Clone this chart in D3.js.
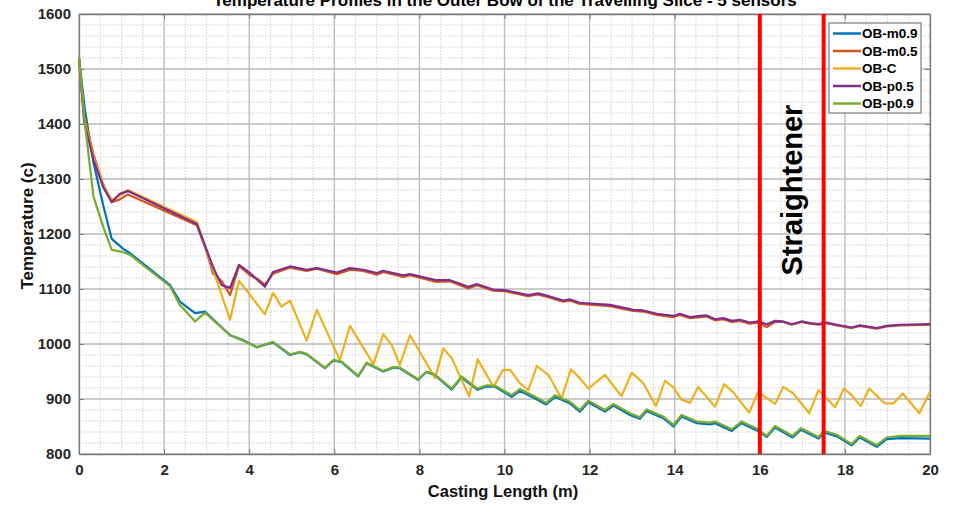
<!DOCTYPE html>
<html>
<head>
<meta charset="utf-8">
<script src="https://cdn.jsdelivr.net/npm/d3@7"></script>
<style>
  html, body { margin: 0; padding: 0; background: #ffffff; }
  svg { display: block; font-family: "Liberation Sans", Arial, sans-serif; }
</style>
</head>
<body>
<svg id="chart" width="961" height="505"></svg>
<script>
// ---------- DATA ----------
const chartTitle = "Temperature Profiles in the Outer Bow of the Travelling Slice - 5 sensors";
const xLabel = "Casting Length (m)";
const yLabel = "Temperature (c)";
const xTicks = [0, 2, 4, 6, 8, 10, 12, 14, 16, 18, 20];
const yTicks = [800, 900, 1000, 1100, 1200, 1300, 1400, 1500, 1600];
const seriesNames = ["OB-m0.9", "OB-m0.5", "OB-C", "OB-p0.5", "OB-p0.9"];
const seriesColors = ["#0072BD", "#D95319", "#EDB120", "#7E2F8E", "#77AC30"];
const markerPositions = [16, 17.5];
const markerLabel = "Straightener";

// casting length for the upper pair (m0.5, p0.5)
const xUpper = [0, 0.12, 0.34, 0.57, 0.77, 0.96, 1.15, 2.77, 3.0, 3.15, 3.35, 3.55, 3.76, 4.02, 4.2, 4.37, 4.56, 4.96, 5.35, 5.59, 6.06, 6.37, 6.68, 7.0, 7.15, 7.62, 7.78, 8.4, 8.72, 9.15, 9.35, 9.73, 10.01, 10.56, 10.79, 11.03, 11.38, 11.54, 11.77, 12.48, 13.03, 13.26, 13.58, 13.97, 14.12, 14.36, 14.6, 14.75, 14.95, 15.14, 15.34, 15.53, 15.77, 15.96, 16.16, 16.36, 16.55, 16.75, 16.98, 17.18, 17.38, 17.57, 17.81, 18.16, 18.35, 18.75, 18.98, 19.3, 20.0];
const obP05 = [1520, 1405, 1335, 1285, 1258, 1273, 1278, 1218, 1171, 1140, 1107, 1102, 1144, 1129, 1116, 1104, 1131, 1141, 1135, 1138, 1130, 1138, 1135, 1129, 1133, 1125, 1127, 1116, 1116, 1104, 1109, 1099, 1098, 1089, 1092, 1087, 1079, 1081, 1075, 1071, 1062, 1061, 1055, 1051, 1055, 1049, 1051, 1052, 1045, 1047, 1042, 1044, 1039, 1041, 1036, 1042, 1041, 1036, 1041, 1038, 1036, 1039, 1035, 1030, 1034, 1029, 1033, 1035, 1036];
const obM05 = [1520, 1415, 1345, 1290, 1258, 1263, 1272, 1216, 1168, 1128, 1115, 1089, 1142, 1125, 1118, 1108, 1128, 1139, 1133, 1137, 1127, 1135, 1133, 1126, 1131, 1122, 1125, 1113, 1114, 1101, 1107, 1097, 1096, 1087, 1090, 1085, 1077, 1079, 1073, 1069, 1060, 1059, 1053, 1049, 1053, 1047, 1049, 1050, 1043, 1045, 1040, 1042, 1037, 1039, 1031, 1040, 1040, 1035, 1040, 1037, 1035, 1038, 1034, 1029, 1033, 1028, 1032, 1034, 1035];

// casting length for the centre sensor
const xCentre = [0, 0.12, 0.34, 0.57, 0.77, 0.96, 1.15, 2.77, 3.55, 3.76, 4.37, 4.56, 4.76, 4.96, 5.35, 5.59, 6.13, 6.37, 6.92, 7.15, 7.35, 7.54, 7.78, 8.37, 8.56, 8.76, 9.17, 9.37, 9.74, 9.97, 10.13, 10.36, 10.56, 10.76, 11.03, 11.34, 11.56, 11.77, 11.97, 12.36, 12.75, 12.99, 13.26, 13.56, 13.77, 13.97, 14.16, 14.36, 14.55, 14.95, 15.16, 15.38, 15.75, 15.96, 16.36, 16.55, 16.79, 17.16, 17.38, 17.77, 17.98, 18.16, 18.37, 18.57, 18.94, 19.14, 19.36, 19.75, 20.0];
const obC = [1520, 1410, 1340, 1288, 1262, 1270, 1280, 1222, 1044, 1115, 1054, 1093, 1068, 1079, 1006, 1062, 971, 1033, 963, 1018, 998, 962, 1016, 938, 992, 974, 905, 972, 922, 953, 953, 929, 916, 960, 944, 901, 954, 938, 919, 944, 905, 948, 929, 887, 933, 921, 899, 893, 922, 886, 927, 912, 875, 913, 891, 922, 910, 874, 916, 885, 919, 907, 887, 919, 892, 892, 910, 874, 913];

// casting length for the lower pair (m0.9, p0.9)
const xLower = [0, 0.14, 0.34, 0.57, 0.77, 1.04, 1.2, 2.14, 2.37, 2.73, 2.96, 3.55, 3.86, 4.18, 4.56, 4.96, 5.19, 5.35, 5.78, 5.98, 6.17, 6.56, 6.76, 7.15, 7.39, 7.54, 7.97, 8.17, 8.37, 8.76, 8.99, 9.36, 9.58, 9.78, 10.17, 10.36, 10.72, 10.98, 11.19, 11.54, 11.77, 11.97, 12.36, 12.56, 12.95, 13.18, 13.34, 13.73, 13.97, 14.16, 14.52, 14.83, 14.95, 15.34, 15.57, 15.96, 16.16, 16.36, 16.77, 16.97, 17.38, 17.51, 17.81, 18.16, 18.35, 18.75, 18.98, 19.3, 20.0];
const obM09 = [1520, 1425, 1330, 1252, 1191, 1173, 1165, 1107, 1077, 1056, 1059, 1016, 1007, 994, 1003, 980, 985, 981, 956, 970, 967, 941, 965, 950, 957, 956, 935, 949, 943, 917, 939, 917, 923, 922, 904, 915, 901, 890, 904, 892, 877, 894, 877, 888, 871, 864, 878, 865, 850, 868, 856, 854, 856, 842, 856, 842, 831, 848, 830, 844, 828, 839, 832, 816, 830, 813, 827, 829, 828];
const obP09 = [1520, 1400, 1268, 1213, 1171, 1167, 1162, 1105, 1071, 1041, 1057, 1016, 1006, 994, 1004, 981, 986, 982, 957, 971, 968, 942, 966, 951, 958, 957, 936, 950, 944, 919, 941, 919, 925, 924, 907, 918, 904, 893, 907, 895, 880, 897, 880, 891, 874, 867, 881, 868, 853, 871, 859, 857, 859, 845, 859, 845, 833, 851, 833, 847, 831, 842, 835, 818, 833, 816, 830, 833, 833];

const seriesX = [xLower, xUpper, xCentre, xUpper, xLower];
const seriesY = [obM09, obM05, obC, obP05, obP09];

// ---------- LAYOUT ----------
const svg = d3.select("#chart");
const margin = { left: 79, right: 31, top: 14, bottom: 51 };
const W = 961, H = 505;
const x = d3.scaleLinear().domain([0, 20]).range([margin.left, W - margin.right]);
const y = d3.scaleLinear().domain([800, 1600]).range([H - margin.bottom, margin.top]);

// minor grid
const xMinor = d3.range(0, 20.001, 0.5);
const yMinor = d3.range(800, 1600.001, 20);
svg.append("g").selectAll("line").data(xMinor).join("line")
  .attr("x1", d => x(d)).attr("x2", d => x(d))
  .attr("y1", y(800)).attr("y2", y(1600))
  .attr("stroke", "#cfcfcf").attr("stroke-width", 1).attr("stroke-dasharray", "1.5,1.5");
svg.append("g").selectAll("line").data(yMinor).join("line")
  .attr("x1", x(0)).attr("x2", x(20))
  .attr("y1", d => y(d)).attr("y2", d => y(d))
  .attr("stroke", "#cfcfcf").attr("stroke-width", 1).attr("stroke-dasharray", "1.5,1.5");

// major grid
svg.append("g").selectAll("line").data(xTicks).join("line")
  .attr("x1", d => x(d)).attr("x2", d => x(d))
  .attr("y1", y(800)).attr("y2", y(1600))
  .attr("stroke", "#bdbdbd").attr("stroke-width", 1.3);
svg.append("g").selectAll("line").data(yTicks).join("line")
  .attr("x1", x(0)).attr("x2", x(20))
  .attr("y1", d => y(d)).attr("y2", d => y(d))
  .attr("stroke", "#bdbdbd").attr("stroke-width", 1.3);

// axes (ticks inward like MATLAB)
const xAxis = d3.axisBottom(x).tickValues(xTicks).tickFormat(d3.format("d")).tickSizeInner(-5).tickSizeOuter(0).tickPadding(10);
const yAxis = d3.axisLeft(y).tickValues(yTicks).tickFormat(d3.format("d")).tickSizeInner(-5).tickSizeOuter(0).tickPadding(8);
const gx = svg.append("g").attr("transform", `translate(0,${y(800)})`).call(xAxis);
const gy = svg.append("g").attr("transform", `translate(${x(0)},0)`).call(yAxis);
const gx2 = svg.append("g").attr("transform", `translate(0,${y(1600)})`).call(d3.axisTop(x).tickValues(xTicks).tickFormat("").tickSizeInner(-5).tickSizeOuter(0));
const gy2 = svg.append("g").attr("transform", `translate(${x(20)},0)`).call(d3.axisRight(y).tickValues(yTicks).tickFormat("").tickSizeInner(-5).tickSizeOuter(0));
[gx, gy, gx2, gy2].forEach(g => {
  g.select(".domain").attr("stroke", "#7a7a7a").attr("stroke-width", 1.3);
  g.selectAll(".tick line").attr("stroke", "#7a7a7a");
  g.selectAll("text").attr("font-family", "'Liberation Sans', Arial, sans-serif")
    .attr("font-size", 15).attr("font-weight", "bold").attr("fill", "#262626");
});

// series lines
const line = d3.line().x(d => x(d[0])).y(d => y(d[1]));
seriesNames.forEach((name, i) => {
  const pts = seriesX[i].map((xv, j) => [xv, seriesY[i][j]]);
  svg.append("path").datum(pts)
    .attr("d", line)
    .attr("fill", "none")
    .attr("stroke", seriesColors[i])
    .attr("stroke-width", 2.2)
    .attr("stroke-linejoin", "round");
});

// straightener markers
svg.append("g").selectAll("line").data(markerPositions).join("line")
  .attr("x1", d => x(d)).attr("x2", d => x(d))
  .attr("y1", y(1600)).attr("y2", y(800))
  .attr("stroke", "#ff0000").attr("stroke-width", 4);
svg.append("text")
  .attr("transform", `translate(${(x(markerPositions[0]) + x(markerPositions[1])) / 2 + 10},190) rotate(-90)`)
  .attr("text-anchor", "middle")
  .attr("font-size", 29).attr("font-weight", "bold").attr("fill", "#000")
  .text(markerLabel);

// title and axis labels
svg.append("text").attr("x", 505).attr("y", 6).attr("text-anchor", "middle")
  .attr("font-size", 17).attr("font-weight", "bold").attr("fill", "#000").text(chartTitle);
svg.append("text").attr("x", 503).attr("y", 497).attr("text-anchor", "middle")
  .attr("font-size", 16.5).attr("font-weight", "bold").attr("fill", "#111").text(xLabel);
svg.append("text").attr("transform", `translate(33,${(y(800) + y(1600)) / 2 - 8}) rotate(-90)`)
  .attr("text-anchor", "middle")
  .attr("font-size", 17).attr("font-weight", "bold").attr("fill", "#111").text(yLabel);

// legend
const lg = svg.append("g").attr("transform", "translate(829,23)");
lg.append("rect").attr("width", 92).attr("height", 90)
  .attr("fill", "#fff").attr("stroke", "#7a7a7a").attr("stroke-width", 1.2);
seriesNames.forEach((name, i) => {
  const cy = 10.5 + i * 17.5;
  lg.append("line").attr("x1", 4).attr("x2", 32).attr("y1", cy).attr("y2", cy)
    .attr("stroke", seriesColors[i]).attr("stroke-width", 2.5);
  lg.append("text").attr("x", 33).attr("y", cy + 4.5)
    .attr("font-size", 13.5).attr("font-weight", "bold").attr("fill", "#000").text(name);
});
</script>
</body>
</html>
